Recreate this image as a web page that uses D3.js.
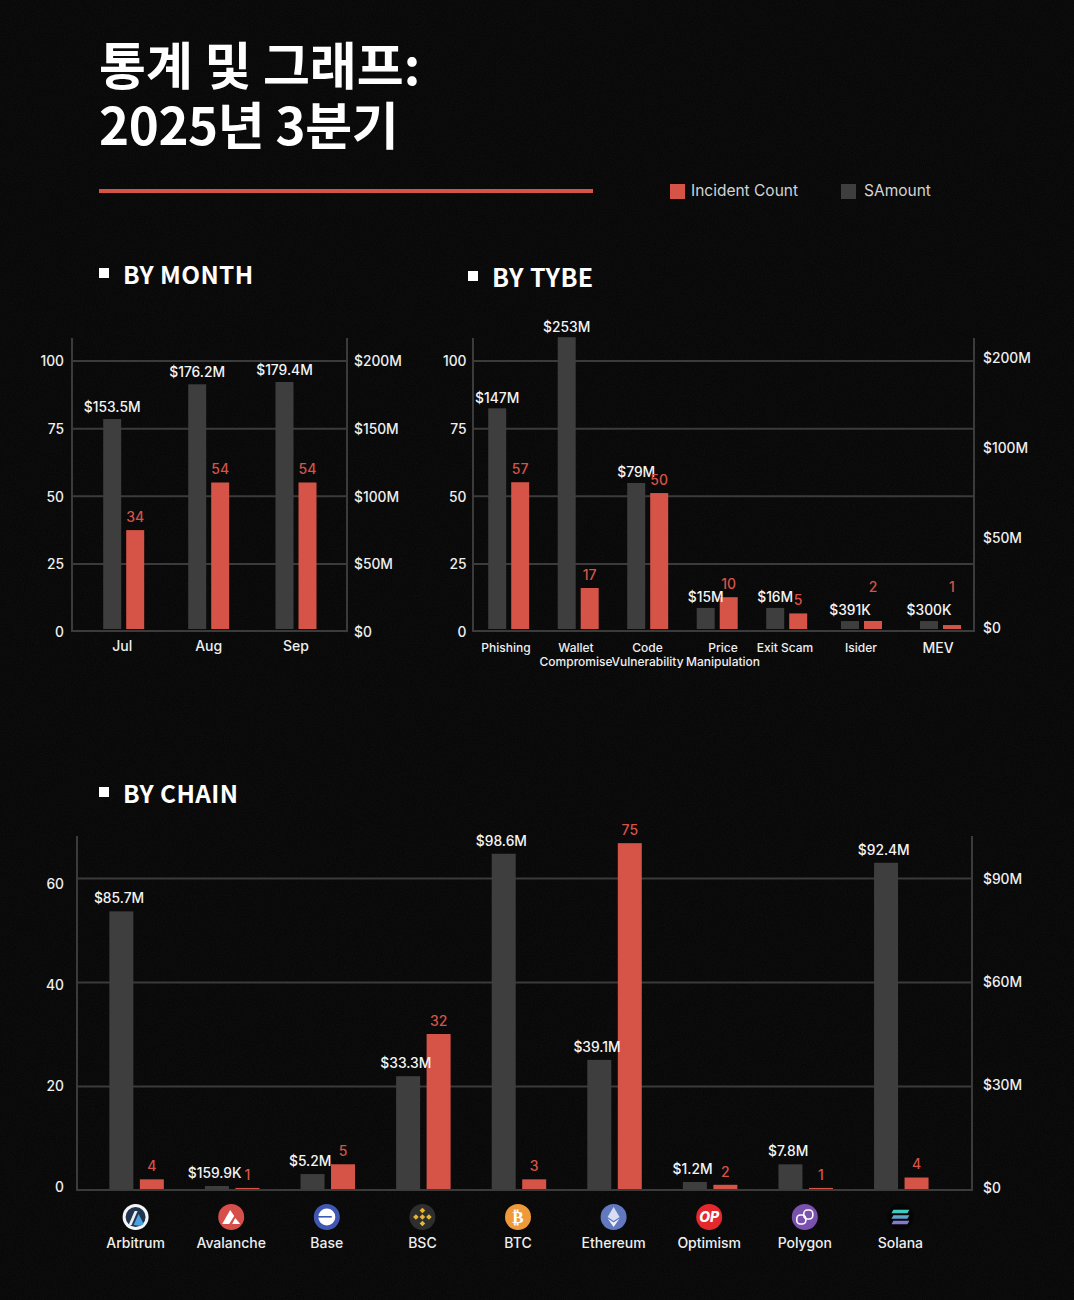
<!DOCTYPE html>
<html>
<head>
<meta charset="utf-8">
<script src="https://cdn.jsdelivr.net/npm/d3@7"></script>
<style>
  html, body { margin: 0; background: #0a0a0a; }
  svg { display: block; }
  text { font-family: Inter, "Noto Sans", sans-serif; font-weight: 500; }
  .head { font-family: "Noto Sans CJK KR", sans-serif; font-weight: 700; fill: #fff; }
  .ticks text { font-family: Inter, sans-serif; font-size: 13.8px; fill: #efefef; }
  .cat { font-size: 14px; fill: #efefef; text-anchor: middle; font-weight: 500; }
</style>
</head>
<body>
<svg id="chart" width="1074" height="1300"></svg>
<script>
const RED = '#d65348', GRAY = '#3e3e3e', LINE = '#3b3b3b';

// by month
const months = ['Jul', 'Aug', 'Sep'];
const monthAmount = [156.7, 182.4, 184.1];
const monthCount = [37.3, 54.9, 54.9];
const monthAmountLabels = ['$153.5M', '$176.2M', '$179.4M'];
const monthCountLabels = ['34', '54', '54'];

// by type
const types = ['Phishing', 'Wallet|Compromise', 'Code|Vulnerability', 'Price|Manipulation', 'Exit Scam', 'Isider', 'MEV'];
const typeAmount = [143, 222, 80, 10.6, 10.6, 3.3, 3.3];
const typeCount = [55, 15.9, 51, 12.5, 6.5, 3.7, 2.2];
const typeAmountLabels = ['$147M', '$253M', '$79M', '$15M', '$16M', '$391K', '$300K'];
const typeCountLabels = ['57', '17', '50', '10', '5', '2', '1'];

// by chain
const chains = ['Arbitrum', 'Avalanche', 'Base', 'BSC', 'BTC', 'Ethereum', 'Optimism', 'Polygon', 'Solana'];
const chainAmount = [80.3, 1.15, 4.6, 32.8, 96.9, 37.5, 2.3, 7.4, 94.3];
const chainCount = [2.05, 0.4, 4.95, 30, 2.05, 66.7, 1, 0.4, 2.4];
const chainAmountLabels = ['$85.7M', '$159.9K', '$5.2M', '$33.3M', '$98.6M', '$39.1M', '$1.2M', '$7.8M', '$92.4M'];
const chainCountLabels = ['4', '1', '5', '32', '3', '75', '2', '1', '4'];

const svg = d3.select('#chart');
const defs = svg.append('defs');

// faint grain on the background
const grain = defs.append('filter').attr('id', 'grain').attr('x', 0).attr('y', 0).attr('width', 1).attr('height', 1);
grain.append('feTurbulence').attr('type', 'fractalNoise').attr('baseFrequency', 0.9).attr('numOctaves', 2).attr('seed', 3);
grain.append('feColorMatrix').attr('type', 'matrix')
  .attr('values', '0 0 0 0 1  0 0 0 0 1  0 0 0 0 1  0.05 0 0 0 -0.012');

svg.append('rect').attr('width', 1074).attr('height', 1300).attr('fill', '#070707');
svg.append('rect').attr('width', 1074).attr('height', 1300).attr('filter', 'url(#grain)');

// header
const titleLines = ['통계 및 그래프:', '2025년 3분기'];
svg.selectAll('text.title').data(titleLines).enter().append('text')
  .attr('class', 'head title')
  .attr('x', 99)
  .attr('y', (d, i) => 85 + i * 60)
  .attr('font-size', 51)
  .attr('letter-spacing', (d, i) => i ? -0.4 : 0)
  .text(d => d);

svg.append('rect').attr('x', 99).attr('y', 189).attr('width', 494).attr('height', 4).attr('fill', RED);

const legend = [['Incident Count', RED, 670], ['SAmount', GRAY, 841]];
const lg = svg.selectAll('g.legend').data(legend).enter().append('g')
  .attr('class', 'legend')
  .attr('transform', d => `translate(${d[2]},184)`);
lg.append('rect').attr('width', 15).attr('height', 15).attr('fill', d => d[1]);
lg.append('text').attr('x', d => d[0] === 'SAmount' ? 23 : 21).attr('y', 7).attr('dy', '.35em')
  .attr('font-size', 15.5).style('font-weight', 400)
  .attr('fill', '#d4d4d4').text(d => d[0]);

function section(name, x, y, size) {
  svg.append('rect').attr('x', x).attr('y', y - 7).attr('width', 10).attr('height', 10).attr('fill', '#fff');
  svg.append('text').attr('class', 'head').attr('x', x + 24).attr('y', y + 0.5).attr('dy', '.35em')
    .attr('font-size', size).attr('letter-spacing', 0.4).text(name);
}
section('BY MONTH', 99, 275, 24.4);
section('BY TYBE', 468, 278, 25);
section('BY CHAIN', 99, 794, 24.4);

function barChart(c) {
  const g = svg.append('g');
  const n = c.amount.length;

  // grid, drawn from the left scale
  const grid = g.append('g').attr('transform', `translate(${c.left},0)`)
    .call(d3.axisLeft(c.yLeft).tickValues(c.gridValues).tickSize(c.left - c.right).tickFormat(''));
  grid.select('.domain').remove();
  grid.selectAll('line').attr('stroke', LINE).attr('stroke-width', 2);

  g.selectAll('line.frame').data([c.left, c.right]).enter().append('line')
    .attr('class', 'frame')
    .attr('x1', d => d).attr('x2', d => d)
    .attr('y1', c.top).attr('y2', c.yLeft(0) + 1)
    .attr('stroke', LINE).attr('stroke-width', 2);
  g.append('line').attr('x1', c.left).attr('x2', c.right)
    .attr('y1', c.yLeft(0)).attr('y2', c.yLeft(0))
    .attr('stroke', LINE).attr('stroke-width', 2);

  const axL = g.append('g').attr('class', 'ticks').attr('transform', `translate(${c.leftLabelX},${c.tickDy})`)
    .call(d3.axisLeft(c.yLeftTicks || c.yLeft).tickValues(c.leftTicks).tickSize(0).tickPadding(0));
  axL.select('.domain').remove();
  const axR = g.append('g').attr('class', 'ticks').attr('transform', `translate(${c.rightLabelX},${c.tickDy})`)
    .call(d3.axisRight(c.yRightTicks || c.yRight).tickValues(c.rightTicks).tickSize(0).tickPadding(0)
      .tickFormat(d => d === 0 ? '$0' : `$${d}M`));
  axR.select('.domain').remove();

  const idx = d3.range(n);
  const grayX = i => c.x(i) - c.gap / 2 - c.barW;
  const redX = i => c.x(i) + c.gap / 2;
  const base = c.yLeft(0) - c.baseGap;

  g.selectAll('rect.amount').data(idx).enter().append('rect')
    .attr('class', 'amount')
    .attr('x', grayX).attr('width', c.barW)
    .attr('y', i => c.yRight(c.amount[i]))
    .attr('height', i => base - c.yRight(c.amount[i]))
    .attr('fill', GRAY);
  g.selectAll('rect.count').data(idx).enter().append('rect')
    .attr('class', 'count')
    .attr('x', redX).attr('width', c.barW)
    .attr('y', i => c.yLeft(c.count[i]))
    .attr('height', i => base - c.yLeft(c.count[i]))
    .attr('fill', RED);

  g.selectAll('text.amountLabel').data(idx).enter().append('text')
    .attr('class', 'amountLabel')
    .attr('x', i => grayX(i) + c.barW / 2 + c.labelDx)
    .attr('y', i => c.yRight(c.amount[i]) - c.amountGap)
    .attr('dy', '.35em').attr('text-anchor', 'middle')
    .attr('font-size', 13.8).attr('fill', '#f4f4f4')
    .text(i => c.amountLabels[i]);
  g.selectAll('text.countLabel').data(idx).enter().append('text')
    .attr('class', 'countLabel')
    .attr('x', i => redX(i) + c.barW / 2)
    .attr('y', i => c.countLabelY ? c.countLabelY(i) : c.yLeft(c.count[i]) - 13)
    .attr('dy', '.35em').attr('text-anchor', 'middle')
    .attr('font-size', 14).attr('fill', RED)
    .text(i => c.countLabels[i]);
  return g;
}

// chart 1
const monthX = d3.scaleLinear().domain([0, 1, 2]).range([123.7, 208.7, 296]);
const g1 = barChart({
  amount: monthAmount, count: monthCount,
  amountLabels: monthAmountLabels, countLabels: monthCountLabels,
  x: monthX, barW: 18, gap: 5, baseGap: 2, labelDx: 0, amountGap: 12,
  left: 72, right: 347, top: 338, leftLabelX: 64, rightLabelX: 354, tickDy: 1,
  yLeft: d3.scaleLinear().domain([0, 100]).range([631, 360.5]),
  yRight: d3.scaleLinear().domain([0, 200]).range([631, 360.5]),
  gridValues: [25, 50, 75, 100], leftTicks: [0, 25, 50, 75, 100], rightTicks: [0, 50, 100, 150, 200]
});
g1.selectAll('text.xcat').data(months).enter().append('text')
  .attr('class', 'cat xcat')
  .attr('x', (d, i) => monthX(i) - (i === 0 ? 1.5 : 0))
  .attr('y', 646).attr('dy', '.35em').text(d => d);

// chart 2, group spacing widens towards the right in the original
const typeX = d3.scaleLinear().domain([0, 4, 5, 6]).range([508.7, 786.7, 861.5, 940.5]);
const typeLabelX = d3.scaleLinear().domain(d3.range(7)).range([506, 576, 647.5, 723, 785, 861, 938]);
const yTypeLeft = d3.scaleLinear().domain([0, 100]).range([631, 360.5]);
const g2 = barChart({
  amount: typeAmount, count: typeCount,
  amountLabels: typeAmountLabels, countLabels: typeCountLabels,
  x: typeX, barW: 18, gap: 5, baseGap: 2, labelDx: 0, amountGap: 10.5,
  left: 473, right: 974, top: 338, leftLabelX: 466.5, rightLabelX: 983, tickDy: 1,
  yLeft: yTypeLeft,
  yRight: d3.scaleLinear().domain([0, 50, 100, 200]).range([627, 537, 447, 357]),
  gridValues: [25, 50, 75, 100], leftTicks: [0, 25, 50, 75, 100], rightTicks: [0, 50, 100, 200],
  countLabelY: i => i >= 5 ? yTypeLeft(16.2) : yTypeLeft(typeCount[i]) - 13
});
types.forEach((t, i) => {
  t.split('|').forEach((part, j) => {
    g2.append('text').attr('class', 'cat')
      .attr('x', typeLabelX(i))
      .attr('y', 648 + j * 14).attr('dy', '.35em')
      .style('font-size', t === 'MEV' ? '14px' : '12px')
      .text(part);
  });
});

// chart 3
const chainX = d3.scaleLinear().domain([0, 8]).range([136.6, 901.3]);
const chainLabelX = d3.scaleLinear().domain([0, 8]).range([135.6, 900.4]);
const g3 = barChart({
  amount: chainAmount, count: chainCount,
  amountLabels: chainAmountLabels, countLabels: chainCountLabels,
  x: chainX, barW: 24, gap: 6.5, baseGap: 1, labelDx: -2.3, amountGap: 13,
  left: 77, right: 972, top: 836, leftLabelX: 64, rightLabelX: 983, tickDy: 0.5,
  yLeft: d3.scaleLinear().domain([0, 60]).range([1190, 878]),
  yRight: d3.scaleLinear().domain([0, 90]).range([1190, 877.7]),
  yLeftTicks: d3.scaleLinear().domain([0, 60]).range([1187, 884]),
  yRightTicks: d3.scaleLinear().domain([0, 90]).range([1187.5, 878.3]),
  gridValues: [20, 40, 60], leftTicks: [0, 20, 40, 60], rightTicks: [0, 30, 60, 90]
});
g3.selectAll('text.xcat').data(chains).enter().append('text')
  .attr('class', 'cat xcat')
  .attr('x', (d, i) => chainLabelX(i))
  .attr('y', 1243).attr('dy', '.35em').text(d => d);

// chain logos, 13px radius around (0,0)
const solGrad = defs.append('linearGradient').attr('id', 'sol').attr('x1', 0).attr('x2', 0).attr('y1', 0).attr('y2', 1);
solGrad.append('stop').attr('offset', 0).attr('stop-color', '#35d6c0');
solGrad.append('stop').attr('offset', 1).attr('stop-color', '#8a6fd6');

const logos = {
  Arbitrum(g) {
    g.append('circle').attr('r', 13).attr('fill', '#f4f6f8');
    g.append('circle').attr('r', 10).attr('fill', '#22354e');
    g.append('path').attr('d', 'M-7 8L-1 -6H2L-4 8Z').attr('fill', '#e8eef4');
    g.append('path').attr('d', 'M-2 8L3 -3L8 7L5 9Z').attr('fill', '#4aa3e0');
  },
  Avalanche(g) {
    g.append('circle').attr('r', 13).attr('fill', '#d64f4b');
    g.append('path').attr('d', 'M-1 -7L3 -1L-2 7H-9Z').attr('fill', '#fff');
    g.append('path').attr('d', 'M4 1L9 7H1Z').attr('fill', '#fff');
  },
  Base(g) {
    g.append('circle').attr('r', 13).attr('fill', '#4058b4');
    g.append('circle').attr('r', 8.5).attr('fill', '#fff');
    g.append('rect').attr('x', -9).attr('y', -1).attr('width', 14).attr('height', 1.6).attr('fill', '#4058b4');
  },
  BSC(g) {
    g.append('circle').attr('r', 13).attr('fill', '#2e2e2e');
    const d = 'M0 -2.8L2.8 0L0 2.8L-2.8 0Z';
    [[0, 0], [0, -6.5], [0, 6.5], [-6.5, 0], [6.5, 0]].forEach(p => {
      g.append('path').attr('d', d).attr('fill', '#e9b72f').attr('transform', `translate(${p[0]},${p[1]})`);
    });
  },
  BTC(g) {
    g.append('circle').attr('r', 13).attr('fill', '#ef9a3a');
    g.append('text').attr('text-anchor', 'middle').attr('y', 6).attr('font-size', 17)
      .attr('fill', '#fff').style('font-family', 'DejaVu Sans').style('font-weight', 700).text('₿');
  },
  Ethereum(g) {
    g.append('circle').attr('r', 13).attr('fill', '#6279c0');
    g.append('path').attr('d', 'M0 -10L6 0L0 4L-6 0Z').attr('fill', '#d7def2');
    g.append('path').attr('d', 'M0 5.5L6 1.5L0 10L-6 1.5Z').attr('fill', '#eef1fa');
  },
  Optimism(g) {
    g.append('circle').attr('r', 13).attr('fill', '#e5282d');
    g.append('text').attr('text-anchor', 'middle').attr('y', 4.8).attr('font-size', 14)
      .attr('font-style', 'italic').attr('fill', '#fff').style('font-weight', 800).text('OP');
  },
  Polygon(g) {
    g.append('circle').attr('r', 13).attr('fill', '#7a52ae');
    g.append('rect').attr('x', -8).attr('y', -2).attr('width', 9).attr('height', 9).attr('rx', 3.5)
      .attr('fill', 'none').attr('stroke', '#fff').attr('stroke-width', 1.6);
    g.append('rect').attr('x', -1).attr('y', -7).attr('width', 9).attr('height', 9).attr('rx', 3.5)
      .attr('fill', 'none').attr('stroke', '#fff').attr('stroke-width', 1.6);
  },
  Solana(g) {
    g.append('circle').attr('r', 13).attr('fill', '#050505');
    g.append('path').attr('fill', 'url(#sol)')
      .attr('d', [-5.5, 0, 5.5].map(y => `M-9 ${y + 1.8}L-7 ${y - 1.8}H9L7 ${y + 1.8}Z`).join(''));
  }
};
chains.forEach((name, i) => {
  const g = svg.append('g').attr('transform', `translate(${chainLabelX(i)},1217)`);
  logos[name](g);
});
</script>
</body>
</html>
